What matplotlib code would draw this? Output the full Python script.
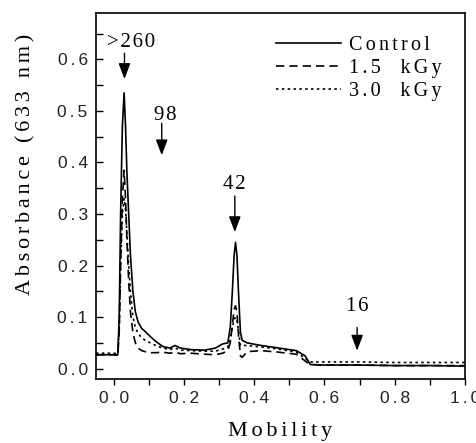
#! /usr/bin/python3

import matplotlib
matplotlib.use('Agg')
import matplotlib.pyplot as plt
from matplotlib.ticker import MultipleLocator, FuncFormatter

# densitometric scans
mobility = [-0.05, 0.0, 0.012, 0.016, 0.02, 0.025, 0.03, 0.034, 0.038, 0.043, 0.048,
            0.055, 0.062, 0.07, 0.08, 0.09, 0.105, 0.12, 0.14, 0.16, 0.175, 0.19,
            0.22, 0.26, 0.29, 0.31, 0.325, 0.332, 0.338, 0.343, 0.347, 0.351, 0.356,
            0.361, 0.366, 0.38, 0.42, 0.47, 0.52, 0.545, 0.56, 0.6, 0.7, 0.8, 0.9, 1.0]
control = [0.027, 0.027, 0.027, 0.1, 0.3, 0.47, 0.535, 0.47, 0.38, 0.3, 0.22,
           0.15, 0.11, 0.09, 0.078, 0.072, 0.062, 0.053, 0.043, 0.04, 0.045, 0.04,
           0.037, 0.036, 0.04, 0.048, 0.05, 0.08, 0.15, 0.22, 0.245, 0.22, 0.14,
           0.07, 0.055, 0.05, 0.045, 0.04, 0.035, 0.025, 0.008, 0.007, 0.007, 0.006, 0.006, 0.005]
kgy15 = [0.027, 0.027, 0.026, 0.07, 0.2, 0.33, 0.385, 0.33, 0.25, 0.17, 0.11,
         0.07, 0.05, 0.04, 0.035, 0.033, 0.031, 0.031, 0.032, 0.03, 0.032, 0.029,
         0.03, 0.028, 0.027, 0.03, 0.035, 0.05, 0.085, 0.115, 0.122, 0.11, 0.06,
         0.025, 0.022, 0.033, 0.035, 0.032, 0.028, 0.015, 0.008, 0.007, 0.007, 0.006, 0.006, 0.006]
kgy30 = [0.03, 0.03, 0.029, 0.08, 0.2, 0.3, 0.33, 0.31, 0.26, 0.2, 0.15,
         0.1, 0.08, 0.068, 0.06, 0.055, 0.05, 0.045, 0.04, 0.037, 0.04, 0.036,
         0.035, 0.034, 0.034, 0.038, 0.042, 0.055, 0.08, 0.095, 0.1, 0.095, 0.07,
         0.045, 0.045, 0.045, 0.042, 0.038, 0.032, 0.02, 0.013, 0.013, 0.013, 0.012, 0.012, 0.012]

labels = ['Control', '1.5  kGy', '3.0  kGy']
styles = ['-', (0, (5, 3)), (0, (1.5, 2))]

# molecular weight markers: label, text pos, arrow x, arrow tail, arrow tip
markers = [('>260', 0.05, 0.632, 0.031, 0.612, 0.562),
           ('98', 0.148, 0.492, 0.137, 0.476, 0.414),
           ('42', 0.343, 0.357, 0.345, 0.335, 0.265),
           ('16', 0.693, 0.12, 0.693, 0.08, 0.035)]

HAIR = '\u200a'


def spaced(s, n=2):
    return (HAIR * n).join(s)


plt.rcParams['font.family'] = 'Liberation Serif'

fig = plt.figure(figsize=(4.76, 4.43), dpi=100)
ax = fig.add_axes([0.2017, 0.1445, 0.7752, 0.8262])

for series, label, ls in zip([control, kgy15, kgy30], labels, styles):
    ax.plot(mobility, series, color='black', linestyle=ls, linewidth=1.2, label=spaced(label))

for text, tx, ty, ax_x, y0, y1 in markers:
    ax.text(tx, ty, spaced(text, 1), ha='center', va='center', fontsize=15)
    ax.annotate('', xy=(ax_x, y1), xytext=(ax_x, y0),
                arrowprops=dict(arrowstyle='-|>,head_length=0.95,head_width=0.36',
                                mutation_scale=10, color='black', lw=1.0,
                                shrinkA=0, shrinkB=0))

ax.set_xlim(-0.05, 1.0)
ax.set_ylim(-0.02, 0.69)
ax.xaxis.set_major_locator(MultipleLocator(0.2))
ax.xaxis.set_minor_locator(MultipleLocator(0.1))
ax.yaxis.set_major_locator(MultipleLocator(0.1))
ax.yaxis.set_minor_locator(MultipleLocator(0.05))
fmt = FuncFormatter(lambda v, p: spaced('{:.1f}'.format(0.0 if abs(v) < 1e-9 else v)))
ax.xaxis.set_major_formatter(fmt)
ax.yaxis.set_major_formatter(fmt)
for lab in ax.get_xticklabels() + ax.get_yticklabels():
    lab.set_fontfamily('Liberation Sans')
    lab.set_fontsize(12.5)
    lab.set_color('#222222')
ax.tick_params(axis='y', which='both', direction='in', length=5, width=1.0, pad=6)
ax.tick_params(axis='x', which='both', direction='out', length=4, width=1.0, pad=5)
for sp in ax.spines.values():
    sp.set_linewidth(1.2)

ax.set_xlabel(spaced('Mobility'), fontsize=16)
ax.set_ylabel(spaced('Absorbance (633 nm)'), fontsize=16)
ax.xaxis.set_label_coords(0.5, -0.118)
ax.yaxis.set_label_coords(-0.165, 0.585)

leg = ax.legend(loc='upper right', bbox_to_anchor=(0.958, 0.96), frameon=False,
                fontsize=14.5, handlelength=3.2, handletextpad=0.4, labelspacing=0.2,
                borderaxespad=0.0)

fig.savefig('out.png', dpi=100)
